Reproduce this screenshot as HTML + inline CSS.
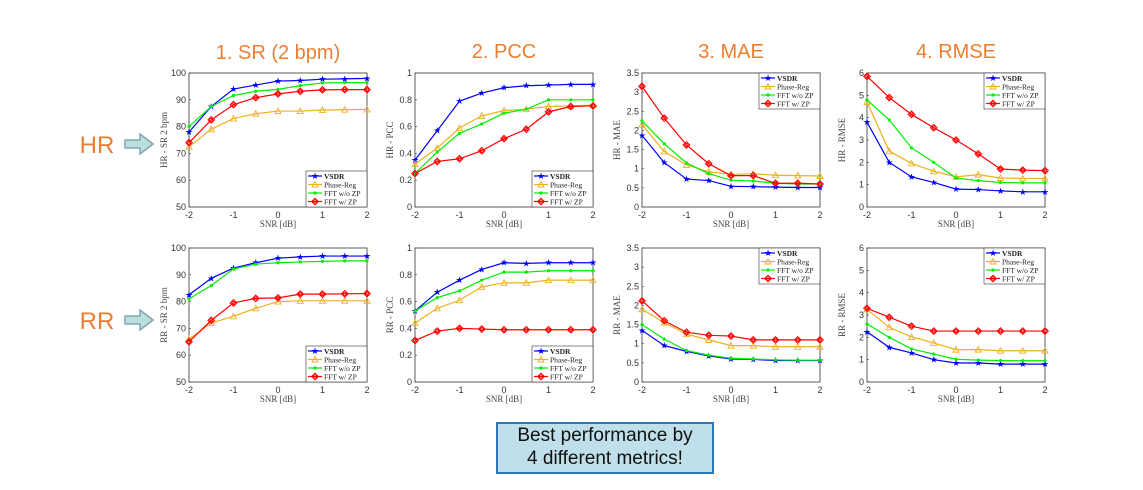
<!DOCTYPE html>
<html><head><meta charset="utf-8"><style>
body{margin:0;background:#fff;width:1143px;height:490px;overflow:hidden;position:relative;font-family:"Liberation Sans",sans-serif}
.t{position:absolute;color:#ED7D31;font-size:20px;text-align:center;width:240px}
.box{position:absolute;left:496px;top:422px;width:214px;height:48px;background:#bfe0ea;border:2px solid #2e75b6;font-size:19px;line-height:23px;text-align:center;color:#111}
</style></head><body>
<div class="t" style="left:158px;top:42px">1. SR (2 bpm)</div>
<div class="t" style="left:384px;top:41px">2. PCC</div>
<div class="t" style="left:611px;top:41px">3. MAE</div>
<div class="t" style="left:836px;top:41px">4. RMSE</div>
<div class="box">Best performance by<br>4 different metrics!</div>
<svg id="s" width="1143" height="490" style="position:absolute;left:0;top:0" xmlns="http://www.w3.org/2000/svg"></svg>
<script>
const S=document.getElementById('s');let h='';
const C=['#0000ff','#edb120','#00ee00','#ff0000'];
const N=['VSDR','Phase-Reg','FFT w/o ZP','FFT w/ ZP'];
const P=[
{x:189,y:73,ymin:50,ymax:100,ticks:[50,60,70,80,90,100],lab:'HR - SR 2 bpm',leg:'b',d:[[78,87.5,94,95.5,97,97.2,97.7,97.8,98],[72.5,79,83,84.8,85.8,85.8,86.2,86.3,86.4],[80,87.5,91.6,93.2,93.9,95.3,96.3,96.4,96.4],[74,82.5,88.2,90.8,92.2,93.2,93.7,93.8,93.8]]},
{x:415,y:73,ymin:0,ymax:1,ticks:[0,.2,.4,.6,.8,1],lab:'HR - PCC',leg:'b',d:[[.35,.57,.79,.85,.89,.905,.91,.915,.915],[.32,.44,.59,.68,.72,.73,.75,.755,.76],[.25,.41,.55,.62,.70,.73,.80,.80,.80],[.25,.34,.36,.42,.51,.58,.71,.75,.755]]},
{x:642,y:73,ymin:0,ymax:3.5,ticks:[0,.5,1,1.5,2,2.5,3,3.5],lab:'HR - MAE',leg:'t',d:[[1.87,1.16,.73,.69,.54,.53,.52,.51,.51],[2.15,1.45,1.1,.92,.85,.87,.83,.82,.81],[2.25,1.65,1.15,.87,.70,.68,.62,.60,.60],[3.15,2.32,1.62,1.13,.82,.82,.62,.62,.60]]},
{x:867,y:73,ymin:0,ymax:6,ticks:[0,1,2,3,4,5,6],lab:'HR - RMSE',leg:'t',d:[[3.8,2.0,1.35,1.1,.8,.78,.72,.68,.68],[4.7,2.5,1.95,1.6,1.35,1.45,1.3,1.28,1.28],[4.8,3.9,2.65,2.0,1.3,1.18,1.1,1.08,1.08],[5.85,4.9,4.15,3.55,3.0,2.38,1.7,1.65,1.63]]},
{x:189,y:248,ymin:50,ymax:100,ticks:[50,60,70,80,90,100],lab:'RR - SR 2 bpm',leg:'b',xl:1,d:[[82.5,88.7,92.5,94.5,96.2,96.7,97,97,97],[66,72,74.5,77.5,80,80.3,80.3,80.3,80.3],[81,86,92.2,94,94.5,94.8,95,95.2,95.2],[65,73,79.5,81.2,81.4,82.8,82.8,82.9,83]]},
{x:415,y:248,ymin:0,ymax:1,ticks:[0,.2,.4,.6,.8,1],lab:'RR - PCC',leg:'b',xl:1,d:[[.53,.67,.76,.84,.89,.885,.89,.89,.89],[.44,.55,.61,.71,.74,.74,.76,.76,.76],[.53,.63,.68,.76,.82,.82,.83,.83,.83],[.31,.38,.40,.395,.39,.39,.39,.39,.39]]},
{x:642,y:248,ymin:0,ymax:3.5,ticks:[0,.5,1,1.5,2,2.5,3,3.5],lab:'RR - MAE',leg:'t',xl:1,d:[[1.35,.95,.8,.68,.6,.59,.56,.56,.56],[1.9,1.55,1.25,1.1,.95,.95,.92,.92,.92],[1.5,1.12,.82,.7,.62,.6,.58,.57,.57],[2.12,1.6,1.3,1.22,1.2,1.1,1.1,1.1,1.1]]},
{x:867,y:248,ymin:0,ymax:6,ticks:[0,1,2,3,4,5,6],lab:'RR - RMSE',leg:'t',xl:1,d:[[2.25,1.55,1.3,1.0,.85,.85,.8,.8,.8],[3.25,2.45,2.02,1.75,1.45,1.45,1.4,1.4,1.4],[2.6,2.0,1.48,1.25,1.02,.98,.96,.95,.95],[3.3,2.9,2.5,2.28,2.28,2.28,2.28,2.28,2.28]]}];
function mk(k,x,y,c){
 if(k==0)return `<text x="${x}" y="${y+3}" font-size="9" fill="${c}" text-anchor="middle">★</text>`;
 if(k==1)return `<path d="M${x-3},${y+2.5}L${x},${y-3}L${x+3},${y+2.5}Z" fill="none" stroke="${c}" stroke-width="0.9"/>`;
 if(k==2)return `<circle cx="${x}" cy="${y}" r="1.6" fill="${c}"/>`;
 return `<path d="M${x},${y-3.3}L${x+3.3},${y}L${x},${y+3.3}L${x-3.3},${y}Z" fill="none" stroke="${c}" stroke-width="1"/><circle cx="${x}" cy="${y}" r="1.6" fill="none" stroke="${c}" stroke-width=".8"/>`;
}
const W=178,H=134;
for(const p of P){
 const X=v=>p.x+(v+2)/4*W, Y=v=>p.y+H-(v-p.ymin)/(p.ymax-p.ymin)*H;
 h+=`<rect x="${p.x}" y="${p.y}" width="${W}" height="${H}" fill="#fff" stroke="#333" stroke-width="0.8"/>`;
 for(const t of p.ticks){const yy=Y(t);h+=`<text x="${p.x-3}" y="${yy+3}" font-size="9" fill="#333" text-anchor="end">${t}</text><line x1="${p.x}" x2="${p.x+2}" y1="${yy}" y2="${yy}" stroke="#333" stroke-width=".6"/>`;}
 for(let v=-2;v<=2;v++){const xx=X(v);h+=`<text x="${xx}" y="${p.y+H+11}" font-size="9" fill="#333" text-anchor="middle">${v}</text>`;}
 h+=`<text transform="translate(${p.x-22},${p.y+H/2}) rotate(-90)" font-size="9" fill="#444" text-anchor="middle" font-family="Liberation Serif,serif">${p.lab}</text>`;
 h+=`<text x="${p.x+W/2}" y="${p.y+H+20}" font-size="9" fill="#444" text-anchor="middle" font-family="Liberation Serif,serif">SNR [dB]</text>`;
 p.d.forEach((s,k)=>{const pts=s.map((v,i)=>`${X(-2+i*.5)},${Y(v)}`).join(' ');h+=`<polyline points="${pts}" fill="none" stroke="${C[k]}" stroke-width="1.2"/>`;s.forEach((v,i)=>h+=mk(k,X(-2+i*.5),Y(v),C[k]));});
 const lx=p.x+W-61, ly=p.leg=='b'?p.y+H-36:p.y;
 h+=`<rect x="${lx}" y="${ly}" width="61" height="36" fill="#fff" stroke="#333" stroke-width=".6"/>`;
 N.forEach((n,k)=>{const yy=ly+5+k*8.5;h+=`<line x1="${lx+2}" x2="${lx+16}" y1="${yy}" y2="${yy}" stroke="${C[k]}" stroke-width="1.2"/>`+mk(k,lx+9,yy,C[k])+`<text x="${lx+18}" y="${yy+3}" font-size="7.5" font-family="Liberation Serif,serif" fill="#222" ${k==0?'font-weight="bold"':''}>${n}</text>`;});
}
[[144,'HR'],[320,'RR']].forEach(([y,t])=>{
 h+=`<text x="97" y="${y+9}" font-size="24" fill="#ED7D31" text-anchor="middle">${t}</text>`;
 h+=`<path d="M125,${y-4}L140,${y-4}L140,${y-10}L153,${y}L140,${y+10}L140,${y+4}L125,${y+4}Z" fill="#b9dfe3" stroke="#7fa7ad" stroke-width="1.5"/>`;
});
S.innerHTML=h;
</script>
</body></html>
